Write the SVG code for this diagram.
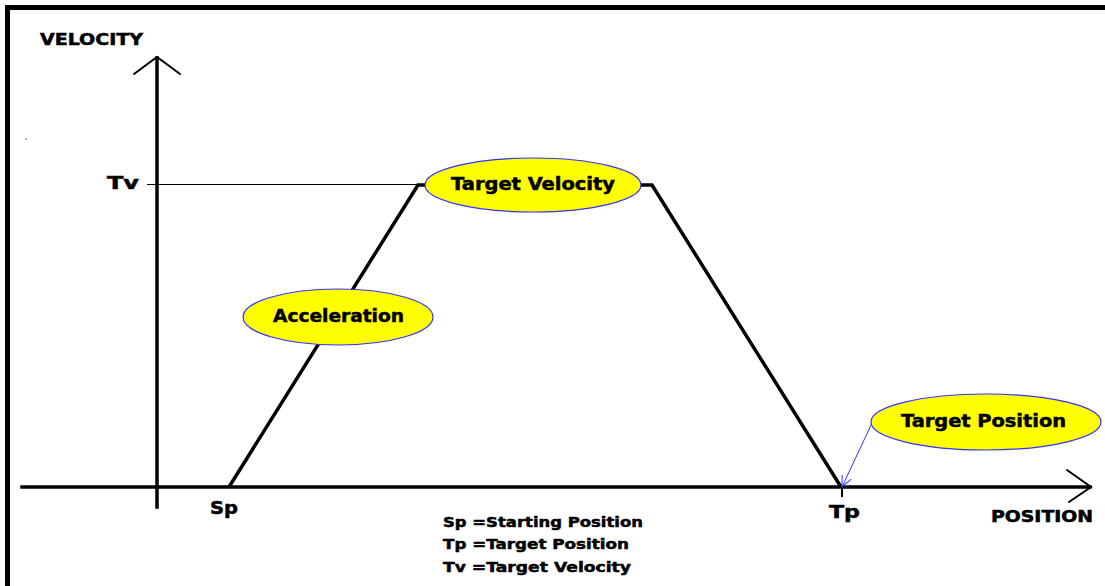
<svg xmlns="http://www.w3.org/2000/svg" width="1105" height="586" viewBox="0 0 1105 586">
  <style>
    .lbl { font-family: "DejaVu Sans", Verdana, sans-serif; font-weight: bold; fill: #000; stroke: #000; stroke-width: 0.5; }
    .axis { stroke: #000; stroke-width: 3.5; fill: none; stroke-linecap: square; }
    .head { stroke: #000; stroke-width: 2; fill: none; stroke-linecap: round; stroke-linejoin: miter; }
    .bubble { fill: #ffff00; stroke: #3333ff; stroke-width: 1.2; }
  </style>
  <defs>
    <marker id="blueArrow" viewBox="0 0 12 12" refX="11" refY="6" markerWidth="12" markerHeight="12" markerUnits="userSpaceOnUse" orient="auto">
      <path d="M0,1 L11,6 L0,11" fill="none" stroke="#3333ff" stroke-width="1"/>
    </marker>
  </defs>
  <rect x="0" y="0" width="1105" height="586" fill="#ffffff"/>
  <!-- frame -->
  <path d="M7.5,586 V7.5 H1105" fill="none" stroke="#000" stroke-width="5"/>
  <circle cx="26" cy="139" r="0.8" fill="#555"/>

  <g id="chart">
    <!-- y axis -->
    <line class="axis" x1="157" y1="58" x2="157" y2="507"/>
    <polyline class="head" points="134,74 157,57 180,74"/>
    <!-- x axis -->
    <line class="axis" x1="22" y1="487" x2="1090" y2="487"/>
    <polyline class="head" points="1067,470 1091,487 1069,502"/>
    <!-- Tv reference line -->
    <line x1="147" y1="184.5" x2="418" y2="184.5" stroke="#000" stroke-width="1"/>
    <!-- Tp tick -->
    <line x1="842" y1="487" x2="842" y2="497" stroke="#000" stroke-width="2"/>
    <!-- velocity profile -->
    <polyline points="229,487 418,185 652,185 841,487" fill="none" stroke="#000" stroke-width="3.5" stroke-linejoin="miter"/>
    <text class="lbl" x="40" y="45" font-size="15" textLength="103" lengthAdjust="spacingAndGlyphs">VELOCITY</text>
    <text class="lbl" x="107" y="189" font-size="18" textLength="32" lengthAdjust="spacingAndGlyphs">Tv</text>
    <text class="lbl" x="210" y="514" font-size="18" textLength="28" lengthAdjust="spacingAndGlyphs">Sp</text>
    <text class="lbl" x="829" y="518" font-size="18" textLength="31" lengthAdjust="spacingAndGlyphs">Tp</text>
    <text class="lbl" x="991" y="522" font-size="15" textLength="102" lengthAdjust="spacingAndGlyphs">POSITION</text>
  </g>

  <g id="connectors">
    <line x1="872" y1="423" x2="842" y2="487" stroke="#3333ff" stroke-width="1" marker-end="url(#blueArrow)"/>
  </g>

  <g id="target-velocity">
    <ellipse class="bubble" cx="533" cy="185" rx="108" ry="27"/>
    <text class="lbl" x="451" y="190" font-size="17" textLength="164" lengthAdjust="spacingAndGlyphs">Target Velocity</text>
  </g>

  <g id="acceleration">
    <ellipse class="bubble" cx="338" cy="317" rx="95" ry="28"/>
    <text class="lbl" x="273" y="322" font-size="17" textLength="131" lengthAdjust="spacingAndGlyphs">Acceleration</text>
  </g>

  <g id="target-position">
    <ellipse class="bubble" cx="986" cy="422" rx="115" ry="28"/>
    <text class="lbl" x="901" y="427" font-size="17" textLength="165" lengthAdjust="spacingAndGlyphs">Target Position</text>
  </g>

  <g id="legend">
    <text class="lbl" x="443" y="527" font-size="14" textLength="200" lengthAdjust="spacingAndGlyphs">Sp =Starting Position</text>
    <text class="lbl" x="443" y="549" font-size="14" textLength="186" lengthAdjust="spacingAndGlyphs">Tp =Target Position</text>
    <text class="lbl" x="443" y="572" font-size="14" textLength="188" lengthAdjust="spacingAndGlyphs">Tv =Target Velocity</text>
  </g>
</svg>
